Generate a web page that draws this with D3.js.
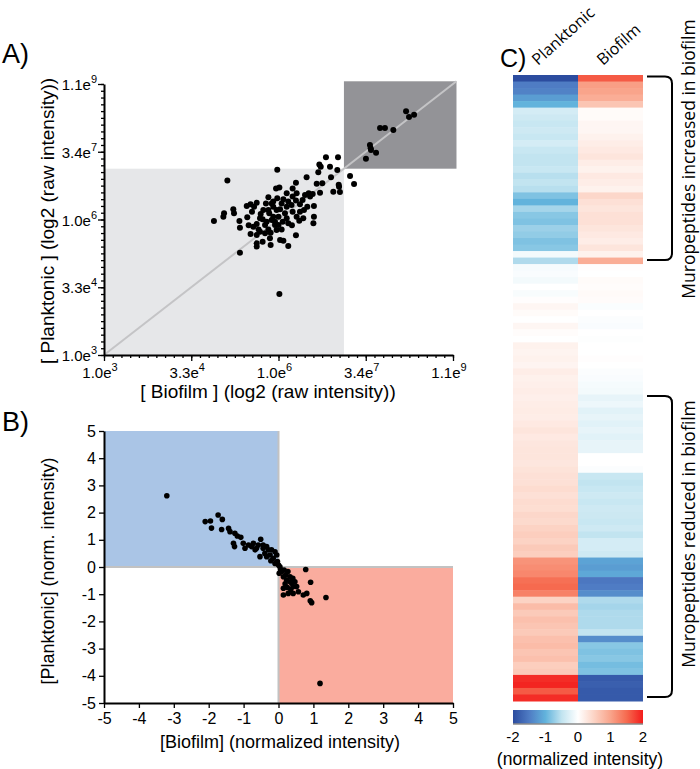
<!DOCTYPE html>
<html>
<head>
<meta charset="utf-8">
<script src="https://cdn.jsdelivr.net/npm/d3@7"></script>
<style>
  body { margin: 0; background: #fff; }
  svg { display: block; font-family: "Liberation Sans", Arial, sans-serif; }
</style>
</head>
<body>
<div id="chart"></div>
<script>
// Panel A: log2 raw intensities (biofilm on x, planktonic on y)
const aBiofilm = [
  27.31, 27.48, 27.77, 25.82, 26.10, 26.58, 25.24, 25.28, 25.30, 25.59, 25.01,
  22.72, 23.41, 22.34, 22.42, 22.95, 23.37, 19.93, 22.28, 23.01, 24.10, 24.33,
  21.61, 21.00, 22.19, 22.51, 23.45, 23.47, 23.14, 23.52, 17.07, 19.86, 20.05,
  20.81, 20.47, 21.04, 21.73, 21.96, 21.52, 22.38, 19.42, 19.93, 20.28, 20.81,
  21.00, 21.38, 21.81, 21.23, 22.03, 21.65, 21.46, 22.03, 22.00, 21.19, 20.77,
  21.00, 18.18, 18.40, 18.75, 18.60, 19.28, 19.61, 19.70, 20.09, 20.47, 17.41,
  17.45, 16.88, 16.84, 16.30, 17.76, 17.79, 18.21, 18.29, 18.56, 18.75, 18.98,
  19.09, 18.86, 19.32, 19.47, 19.70, 19.89, 20.37, 20.56, 20.18, 19.89, 19.55,
  19.23, 18.40, 18.75, 18.94, 19.42, 19.80, 20.24, 20.47, 21.04, 21.23, 20.81,
  18.75, 18.75, 19.09, 19.55, 20.09, 20.28, 20.56, 17.79, 20.05,
  19.42, 19.61, 20.00, 19.23, 19.80, 20.18, 19.70, 19.13, 20.00, 19.51, 18.48,
  18.94, 20.56, 20.75, 21.42
];
const aPlanktonic = [
  27.99, 27.56, 27.73, 26.75, 26.75, 26.61, 25.50, 25.25, 25.13, 24.93, 24.49,
  24.59, 24.59, 24.05, 23.90, 23.90, 23.65, 23.68, 23.48, 23.11, 23.21, 22.62,
  23.11, 22.72, 22.64, 22.67, 22.57, 22.42, 22.05, 22.03, 22.87, 22.28, 22.37,
  22.28, 21.93, 21.93, 21.93, 21.88, 21.81, 21.98, 21.64, 21.56, 21.49, 21.69,
  21.41, 21.44, 21.69, 21.12, 21.00, 20.95, 20.70, 20.21, 19.72, 19.91, 19.57,
  18.83, 21.00, 21.12, 21.24, 20.95, 21.19, 21.19, 20.95, 20.75, 20.95, 20.75,
  20.46, 20.46, 20.21, 19.89, 19.89, 19.40, 20.16, 19.57, 19.47, 19.67, 20.41,
  20.01, 19.27, 19.84, 20.46, 20.21, 20.70, 20.46, 19.72, 19.27, 19.23, 19.03,
  18.98, 18.93, 18.86, 19.10, 19.27, 19.59, 19.84, 20.09, 20.21, 20.58, 20.58,
  18.24, 18.00, 18.36, 18.12, 18.49, 18.44, 18.04, 17.55, 14.50,
  20.70, 19.96, 20.21, 19.59, 19.84, 21.19, 21.32, 20.70, 19.59, 18.61, 20.58,
  20.09, 21.32, 21.07, 20.09
];
const aTickValues = [10, 15, 20, 25, 30];
const aTickMantissa = ["1.0e", "3.3e", "1.0e", "3.4e", "1.1e"];
const aTickExponent = ["3", "4", "6", "7", "9"];
const aLowEnd = 23.75;   // upper edge of the light grey box (log2)
const aHighEnd = 30.2;   // upper edge of the dark grey box (log2)

// Panel B: normalized intensities
const bBiofilm = [
  -3.20, -2.10, -1.95, -1.73, -1.61, -1.92, -1.63, -1.43, -1.39, -1.25, -1.18,
  -1.08, -1.29, -1.26, -1.01, -0.96, -0.51, -0.77, -0.67, -0.58, -0.44, -0.34,
  -0.29, -0.53, -0.39, -0.24, -0.15, -0.05, -0.03, 0.04, 0.09, 0.14, 0.23, 0.33,
  0.38, 0.42, 0.47, 0.14, 0.28, 0.42, 0.57, 0.71, 0.81, 0.91, 0.95, 1.36, 0.78,
  0.92, 1.19,
  -0.72, -0.63, -0.86, -0.44, -0.20, -0.10, -0.34, -0.22, -0.10, 0.00, 0.06,
  0.02, 0.16, 0.21, 0.27, 0.33, 0.41, 0.19, 0.25, 0.35, 0.52, 0.14
];
const bPlanktonic = [
  2.62, 1.67, 1.69, 1.91, 1.75, 1.43, 1.38, 1.42, 1.30, 1.24, 1.14,
  1.09, 0.87, 0.75, 0.87, 0.69, 1.02, 0.75, 0.63, 0.81, 0.69, 0.75,
  0.63, 0.38, 0.50, 0.44, 0.32, 0.44, 0.20, 0.01, -0.17, -0.36, -0.48, -0.36,
  -0.60, -0.72, -0.54, -0.78, -0.97, -0.97, -0.91, -1.03, -0.97, -1.24, -1.31, -1.12, -0.09,
  -0.56, -4.28,
  0.87, 0.69, 0.81, 0.81, 0.63, 0.56, 0.38, 0.23, 0.13, 0.07, -0.09,
  -0.23, -0.11, -0.29, -0.17, -0.54, -0.42, -0.62, -0.75, -0.82, -0.72, -1.03
];
const bTicks = [-5, -4, -3, -2, -1, 0, 1, 2, 3, 4, 5];

// Panel C: heatmap rows (normalized intensity)
const heatColumns = ["Planktonic", "Biofilm"];
const heatPlanktonic = [
  -2.0, -1.5, -1.45, -1.2, -1.0, -0.35, -0.4, -0.45, -0.4, -0.45, -0.35, -0.45,
  -0.5, -0.5, -0.45, -0.55, -0.5, -0.55, -0.85, -1.0, -0.65, -0.8, -0.85, -0.7,
  -0.75, -0.85, -0.8, -0.1, -0.6,
  -0.08, -0.05, -0.1, 0.0, -0.06, 0.02, 0.1, 0.05, 0.0, 0.1, 0.03, 0.0, 0.15,
  0.13, 0.15, 0.12, 0.2, 0.16, 0.18, 0.2,
  0.18, 0.2, 0.22, 0.2, 0.25, 0.3, 0.25, 0.28, 0.3, 0.3, 0.28, 0.32, 0.35, 0.35,
  0.4, 0.35, 0.4, 0.38, 0.45, 0.42, 0.5, 0.55, 0.5, 0.6, 0.55, 1.15, 1.2, 1.25,
  1.45, 1.5, 1.3, 0.5, 0.75, 0.6, 0.7, 0.65, 0.6, 0.7, 0.75, 0.65, 0.7, 0.55,
  0.6, 1.9, 1.95, 1.6, 1.9
];
const heatBiofilm = [
  1.6, 1.05, 1.0, 0.9, 0.65, 0.05, 0.05, 0.1, 0.1, 0.15, 0.2, 0.25,
  0.3, 0.2, 0.15, 0.25, 0.2, 0.15, 0.45, 0.35, 0.3, 0.35, 0.35, 0.3,
  0.25, 0.2, 0.3, 0.15, 0.9,
  0.02, 0.0, 0.05, 0.03, 0.06, 0.04, -0.04, 0.0, -0.03, -0.05, 0.0, -0.02, 0.0,
  0.0, 0.02, 0.0, -0.03, -0.05, -0.08, -0.1,
  -0.2, -0.15, -0.25, -0.2, -0.25, -0.2, -0.25, -0.2, -0.2, 0.0, 0.0, -0.03,
  -0.45, -0.5, -0.45, -0.4, -0.45, -0.4, -0.42, -0.45, -0.4, -0.5, -0.35, -0.35,
  -0.4, -1.15, -1.2, -1.1, -1.55, -1.5, -1.35, -0.6, -0.65, -0.6, -0.6, -0.6,
  -0.5, -1.35, -0.8, -0.85, -0.8, -0.9, -0.85, -1.85, -1.8, -1.85, -1.85
];
const increasedRows = [0, 28];
const reducedRows = [49, 95];
const colorStops = [-2, -1.5, -1, -0.5, 0, 0.5, 1, 1.5, 2];
const colorValues = ["#2c4c9f", "#4f7cc4", "#62b3dc", "#c2e4f0", "#ffffff",
                     "#fcd3c4", "#f9a48b", "#f66a4f", "#f31c1c"];
const legendTicks = [-2, -1, 0, 1, 2];

const svg = d3.select("#chart")
    .append("svg")
    .attr("width", 700)
    .attr("height", 769);

function styleAxis(g) {
    g.select(".domain").attr("stroke", "#000").attr("stroke-width", 2);
    g.selectAll(".tick line").attr("stroke", "#000").attr("stroke-width", 1.3);
}

// ---------------- Panel A ----------------
const ax = d3.scaleLinear().domain([10, 30]).range([104, 453]);
const ay = d3.scaleLinear().domain([10, 30]).range([355, 84]);

svg.append("rect")
    .attr("x", ax(10)).attr("y", ay(aLowEnd))
    .attr("width", ax(aLowEnd) - ax(10)).attr("height", ay(10) - ay(aLowEnd))
    .attr("fill", "#e6e7e9");
svg.append("rect")
    .attr("x", ax(aLowEnd)).attr("y", ay(aHighEnd))
    .attr("width", ax(aHighEnd) - ax(aLowEnd)).attr("height", ay(aLowEnd) - ay(aHighEnd))
    .attr("fill", "#939397");
svg.append("line")
    .attr("x1", ax(10)).attr("y1", ay(10))
    .attr("x2", ax(aHighEnd)).attr("y2", ay(aHighEnd))
    .attr("stroke", "#c4c4c6").attr("stroke-width", 2);

svg.append("g")
    .selectAll("circle")
    .data(aBiofilm)
    .enter().append("circle")
    .attr("cx", d => ax(d))
    .attr("cy", (d, i) => ay(aPlanktonic[i]))
    .attr("r", 3)
    .attr("fill", "#000");

const minorA = d3.range(10, 30.01, 0.5);
const axA = svg.append("g").attr("transform", `translate(0,${ay(10)})`);
axA.call(d3.axisBottom(ax).tickValues(minorA).tickSize(3).tickSizeOuter(0).tickFormat(""));
axA.append("g").call(d3.axisBottom(ax).tickValues(aTickValues).tickSize(6).tickSizeOuter(0).tickFormat(""))
    .call(g => g.select(".domain").remove());
axA.call(styleAxis);

const ayA = svg.append("g").attr("transform", `translate(${ax(10)},0)`);
ayA.call(d3.axisLeft(ay).tickValues(minorA).tickSize(3).tickSizeOuter(0).tickFormat(""));
ayA.append("g").call(d3.axisLeft(ay).tickValues(aTickValues).tickSize(6).tickSizeOuter(0).tickFormat(""))
    .call(g => g.select(".domain").remove());
ayA.call(styleAxis);

// tick labels with superscript exponent
aTickValues.forEach((v, i) => {
    const tx = svg.append("text")
        .attr("x", ax(v) - 4).attr("y", ay(10) + 23)
        .attr("text-anchor", "middle")
        .attr("font-size", 15);
    tx.append("tspan").text(aTickMantissa[i]);
    tx.append("tspan").attr("dy", -7).attr("font-size", 11).text(aTickExponent[i]);

    const ty = svg.append("text")
        .attr("x", ax(10) - 7).attr("y", ay(v) + 6)
        .attr("text-anchor", "end")
        .attr("font-size", 15);
    ty.append("tspan").text(aTickMantissa[i]);
    ty.append("tspan").attr("dy", -7).attr("font-size", 11).text(aTickExponent[i]);
});

svg.append("text")
    .attr("x", 268).attr("y", 398)
    .attr("text-anchor", "middle").attr("font-size", 19)
    .text("[ Biofilm ] (log2 (raw intensity))");
svg.append("text")
    .attr("transform", "translate(54,221) rotate(-90)")
    .attr("text-anchor", "middle").attr("font-size", 19)
    .text("[ Planktonic ] (log2 (raw intensity))");
svg.append("text")
    .attr("x", 2).attr("y", 63).attr("font-size", 27).text("A)");

// ---------------- Panel B ----------------
const bx = d3.scaleLinear().domain([-5, 5]).range([104, 453]);
const by = d3.scaleLinear().domain([-5, 5]).range([703, 431]);

svg.append("rect")
    .attr("x", bx(-5)).attr("y", by(5))
    .attr("width", bx(0) - bx(-5)).attr("height", by(0) - by(5))
    .attr("fill", "#aac5e6");
svg.append("rect")
    .attr("x", bx(0)).attr("y", by(0))
    .attr("width", bx(5) - bx(0)).attr("height", by(-5) - by(0))
    .attr("fill", "#faac9e");
svg.append("line")
    .attr("x1", bx(-5)).attr("x2", bx(5)).attr("y1", by(0)).attr("y2", by(0))
    .attr("stroke", "#c2c2c2").attr("stroke-width", 2);
svg.append("line")
    .attr("x1", bx(0)).attr("x2", bx(0)).attr("y1", by(5)).attr("y2", by(-5))
    .attr("stroke", "#c2c2c2").attr("stroke-width", 2);

svg.append("g")
    .selectAll("circle")
    .data(bBiofilm)
    .enter().append("circle")
    .attr("cx", d => bx(d))
    .attr("cy", (d, i) => by(bPlanktonic[i]))
    .attr("r", 2.8)
    .attr("fill", "#000");

svg.append("g")
    .attr("transform", `translate(0,${by(-5)})`)
    .call(d3.axisBottom(bx).tickValues(bTicks).tickSize(5).tickSizeOuter(0).tickFormat(d => String(d)))
    .call(styleAxis)
    .call(g => g.selectAll("text").attr("font-size", 16).attr("fill", "#000")
        .attr("font-family", "Liberation Sans, Arial, sans-serif").attr("dy", "0.8em"));
svg.append("g")
    .attr("transform", `translate(${bx(-5)},0)`)
    .call(d3.axisLeft(by).tickValues(bTicks).tickSize(5).tickSizeOuter(0).tickFormat(d => String(d)))
    .call(styleAxis)
    .call(g => g.selectAll("text").attr("font-size", 16).attr("fill", "#000")
        .attr("font-family", "Liberation Sans, Arial, sans-serif"));

svg.append("text")
    .attr("x", 280).attr("y", 748)
    .attr("text-anchor", "middle").attr("font-size", 18)
    .text("[Biofilm] (normalized intensity)");
svg.append("text")
    .attr("transform", "translate(54,571) rotate(-90)")
    .attr("text-anchor", "middle").attr("font-size", 18)
    .text("[Planktonic] (norm. intensity)");
svg.append("text")
    .attr("x", 2).attr("y", 431).attr("font-size", 27).text("B)");

// ---------------- Panel C ----------------
const color = d3.scaleLinear().domain(colorStops).range(colorValues).clamp(true);
const rows = d3.range(heatPlanktonic.length);
const hy = d3.scaleBand().domain(rows).range([75, 701]);
const hx = d3.scaleBand().domain(heatColumns).range([513, 643]);

const heat = svg.append("g");
[heatPlanktonic, heatBiofilm].forEach((vals, c) => {
    heat.append("g").selectAll("rect")
        .data(vals)
        .enter().append("rect")
        .attr("x", hx(heatColumns[c]))
        .attr("y", (d, i) => hy(i))
        .attr("width", hx.bandwidth())
        .attr("height", hy.bandwidth() + 0.5)
        .attr("fill", d => color(d));
});

heatColumns.forEach(name => {
    svg.append("text")
        .attr("transform", `translate(${hx(name) + 25},66) rotate(-42)`)
        .attr("font-family", "Open Sans, sans-serif")
        .attr("font-size", 16)
        .text(name);
});
svg.append("text")
    .attr("x", 500).attr("y", 67).attr("font-size", 25)
    .attr("font-family", "Liberation Sans Narrow, Liberation Sans, sans-serif").text("C)");

function bracket(r0, r1) {
    const y0 = hy(r0) + 1.5, y1 = hy(r1) + hy.bandwidth() - 4;
    const xl = 647, xr = 672;
    return `M${xl},${y0} L${xr - 7},${y0} Q${xr},${y0} ${xr},${y0 + 7} ` +
           `L${xr},${y1 - 7} Q${xr},${y1} ${xr - 7},${y1} L${xl},${y1}`;
}
svg.append("path").attr("d", bracket(increasedRows[0], increasedRows[1]))
    .attr("fill", "none").attr("stroke", "#000").attr("stroke-width", 2);
svg.append("path").attr("d", bracket(reducedRows[0], reducedRows[1]))
    .attr("fill", "none").attr("stroke", "#000").attr("stroke-width", 2);

svg.append("text")
    .attr("transform", "translate(695,159) rotate(-90)")
    .attr("text-anchor", "middle")
    .attr("font-family", "Open Sans, sans-serif").attr("font-size", 17.5)
    .text("Muropeptides increased in biofilm");
svg.append("text")
    .attr("transform", "translate(695,534) rotate(-90)")
    .attr("text-anchor", "middle")
    .attr("font-family", "Open Sans, sans-serif").attr("font-size", 17.5)
    .text("Muropeptides reduced in biofilm");

// colour legend
const lx = d3.scaleLinear().domain([-2, 2]).range([513, 643]);
const grad = svg.append("defs").append("linearGradient").attr("id", "heatGrad");
colorStops.forEach((s, i) => {
    grad.append("stop")
        .attr("offset", (s + 2) / 4)
        .attr("stop-color", colorValues[i]);
});
svg.append("rect")
    .attr("x", lx(-2)).attr("y", 710)
    .attr("width", lx(2) - lx(-2)).attr("height", 14)
    .attr("fill", "url(#heatGrad)");
svg.append("line")
    .attr("x1", lx(-2)).attr("x2", lx(2)).attr("y1", 724).attr("y2", 724)
    .attr("stroke", "#8a8a8a").attr("stroke-width", 1.5);
svg.append("g").selectAll("text")
    .data(legendTicks)
    .enter().append("text")
    .attr("x", d => lx(d)).attr("y", 742)
    .attr("text-anchor", "middle").attr("font-size", 15)
    .text(d => String(d));
svg.append("text")
    .attr("x", 580).attr("y", 765)
    .attr("text-anchor", "middle").attr("font-size", 17.5)
    .text("(normalized intensity)");
</script>
</body>
</html>
